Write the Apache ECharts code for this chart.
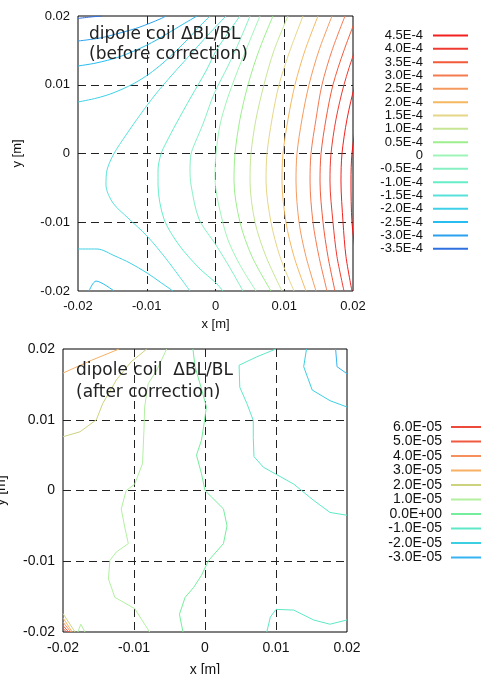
<!DOCTYPE html>
<html><head><meta charset="utf-8">
<script src="https://cdn.jsdelivr.net/npm/echarts/dist/echarts.min.js"></script>
<style>html,body{margin:0;padding:0;background:#fff}#c{width:481px;height:674px}</style>
</head><body><div id="c"></div>
<script>
// ---------- DATA: plot 1 (before correction) ----------
const axisTicks = [-0.02, -0.01, 0, 0.01, 0.02];
const rowY = [0.02, 0.015, 0.01, 0.005, 0, -0.004, -0.01, -0.015, -0.02];
const bx_p50 = [0.0258, 0.02349, 0.02175, 0.02058, 0.01985, 0.01971, 0.01985, 0.02044, 0.02116];
const bx_p45 = [0.02407, 0.02189, 0.02029, 0.01913, 0.0184, 0.01825, 0.01855, 0.01898, 0.01985];
const bx_p40 = [0.02233, 0.02029, 0.01869, 0.01753, 0.0168, 0.01665, 0.01709, 0.01767, 0.01869];
const bx_p35 = [0.02058, 0.01869, 0.01709, 0.01607, 0.01535, 0.0152, 0.01564, 0.01636, 0.01738];
const bx_p30 = [0.01884, 0.01695, 0.01549, 0.01462, 0.01389, 0.01375, 0.01418, 0.01505, 0.01622];
const bx_p25 = [0.01695, 0.01505, 0.0136, 0.01258, 0.01185, 0.01171, 0.01215, 0.01316, 0.01462];
const bx_p20 = [0.01491, 0.01302, 0.01156, 0.01055, 0.00982, 0.00967, 0.01025, 0.01142, 0.01316];
const bx_p15 = [0.01273, 0.01084, 0.00924, 0.00822, 0.00749, 0.00735, 0.00807, 0.00938, 0.01142];
const bx_p10 = [0.01055, 0.00851, 0.00705, 0.00589, 0.00516, 0.00502, 0.00575, 0.00735, 0.00967];
const bx_p05 = [0.00836, 0.00633, 0.00473, 0.00356, 0.00284, 0.00269, 0.00356, 0.00531, 0.00807];
const b_0 = [[0.00647,0.02],[0.00473,0.01578],[0.00298,0.01142],[0.00167,0.00778],[0.00065,0.00415],[0.00007,-0.00007],[-0.00007,-0.00313],[0.00007,-0.00531],[0.0008,-0.00895],[0.00182,-0.01258],[0.00356,-0.01622],[0.00589,-0.02]];
const b_m05 = [[0.00502,0.02],[0.00356,0.01651],[0.00182,0.01273],[-0.00022,0.00865],[-0.00182,0.00429],[-0.00298,0.00153],[-0.00356,-0.00007],[-0.00371,-0.0024],[-0.00356,-0.00458],[-0.0024,-0.00953],[0.00007,-0.01331],[0.00211,-0.01665],[0.004,-0.02]];
const b_m10 = [[0.00356,0.02],[0.00182,0.01753],[0.00007,0.01491],[-0.00138,0.012],[-0.00356,0.00822],[-0.00575,0.00429],[-0.0072,0.00153],[-0.00793,-0.00007],[-0.00836,-0.0024],[-0.00836,-0.00458],[-0.00749,-0.00953],[-0.00531,-0.01331],[-0.0024,-0.01665],[0.00007,-0.01884],[0.00109,-0.02]];
const b_m15 = [[0.00153,0.02],[-0.00109,0.01724],[-0.00371,0.01433],[-0.00633,0.01142],[-0.0088,0.00851],[-0.01098,0.0056],[-0.01302,0.00269],[-0.0148,-0.00007],[-0.01578,-0.0024],[-0.01593,-0.00458],[-0.01491,-0.0072],[-0.01273,-0.00938],[-0.00996,-0.012],[-0.00705,-0.01549],[-0.00371,-0.02]];
const b_m20 = [[-0.02,0.00749],[-0.01724,0.00807],[-0.01491,0.0088],[-0.012,0.01011],[-0.00967,0.01156],[-0.00764,0.01316],[-0.00575,0.01491],[-0.004,0.01665],[-0.0024,0.0184],[-0.0008,0.02]];
const b_m20b = [[-0.02,-0.01389],[-0.01724,-0.01389],[-0.01462,-0.01491],[-0.01244,-0.01593],[-0.00996,-0.01738],[-0.00807,-0.01869],[-0.00618,-0.02]];
const b_m25 = [[-0.02,0.01273],[-0.01738,0.01316],[-0.01404,0.01404],[-0.01055,0.01549],[-0.00807,0.0168],[-0.00516,0.01855],[-0.00269,0.02]];
const b_m25b = [[-0.0184,-0.02],[-0.01738,-0.01855],[-0.01476,-0.02]];
const b_m30 = [[-0.02,0.01636],[-0.0168,0.0168],[-0.01389,0.01753],[-0.01098,0.0184],[-0.00807,0.01956],[-0.0072,0.02]];
const b_m35 = [[-0.02,0.01964],[-0.01825,0.01985],[-0.01651,0.02]];
const beforeLevels = ['4.5E-4','4.0E-4','3.5E-4','3.0E-4','2.5E-4','2.0E-4','1.5E-4','1.0E-4','0.5E-4','0','-0.5E-4','-1.0E-4','-1.5E-4','-2.0E-4','-2.5E-4','-3.0E-4','-3.5E-4'];

// ---------- DATA: plot 2 (after correction) ----------
const a_p60 = [[-0.02,-0.0195],[-0.0195,-0.02]];
const a_p50 = [[-0.02,-0.0191],[-0.0192,-0.02]];
const a_p40 = [[-0.02,-0.0186],[-0.0189,-0.02]];
const a_p30 = [[-0.02,0.0166],[-0.016,0.0184],[-0.0121,0.02]];
const a_p30b = [[-0.02,-0.018],[-0.0187,-0.02]];
const a_p20 = [[-0.02,0.0076],[-0.0176,0.0083],[-0.0153,0.01],[-0.0144,0.0123],[-0.0125,0.0156],[-0.0104,0.0182],[-0.0082,0.02]];
const a_p20b = [[-0.02,-0.0174],[-0.0183,-0.02]];
const a_p10 = [[-0.0054,0.02],[-0.0068,0.017],[-0.008,0.0151],[-0.0085,0.0118],[-0.0086,0.0085],[-0.0088,0.0038],[-0.0099,0.0009],[-0.0111,0.0],[-0.0118,-0.0026],[-0.0113,-0.0052],[-0.0108,-0.0075],[-0.0125,-0.0087],[-0.0134,-0.0099],[-0.0136,-0.0125],[-0.0127,-0.0151],[-0.0099,-0.0167],[-0.0078,-0.02]];
const a_p10b = [[-0.0179,-0.02],[-0.0175,-0.0189],[-0.0169,-0.02]];
const a_0 = [[-0.0017,0.02],[-0.0014,0.0175],[-0.0005,0.0144],[0.0002,0.0118],[-0.0002,0.009],[-0.0005,0.0071],[-0.0012,0.005],[-0.0005,0.0024],[0.0,0.0],[0.0009,-0.0009],[0.0026,-0.0026],[0.0031,-0.005],[0.0026,-0.0075],[0.0005,-0.0099],[-0.0005,-0.012],[-0.0016,-0.0137],[-0.0028,-0.0151],[-0.0036,-0.0175],[-0.0031,-0.02]];
const a_m10 = [[0.01,0.02],[0.0073,0.0189],[0.0048,0.0177],[0.0049,0.0146],[0.0059,0.0123],[0.0068,0.0099],[0.0068,0.0075],[0.0069,0.0048],[0.0082,0.0033],[0.01,0.0023],[0.0125,0.0009],[0.0153,-0.0014],[0.0176,-0.0031],[0.02,-0.0035]];
const a_m10b = [[0.0087,-0.02],[0.0092,-0.0179],[0.01,-0.0168],[0.0125,-0.0169],[0.0153,-0.0183],[0.0176,-0.0189],[0.02,-0.0183]];
const a_m20 = [[0.0143,0.02],[0.0139,0.0175],[0.0151,0.0142],[0.0176,0.0127],[0.02,0.0118]];
const a_m30 = [[0.0184,0.02],[0.0186,0.0175],[0.02,0.0165]];
const afterLevels = ['6.0E-05','5.0E-05','4.0E-05','3.0E-05','2.0E-05','1.0E-05','0.0E+00','-1.0E-05','-2.0E-05','-3.0E-05'];

// ---------- assembly ----------
const zipRows = xs => xs.map((x, i) => [x, rowY[i]]);
const beforeLines = {
  '5.0E-4': [zipRows(bx_p50)], '4.5E-4': [zipRows(bx_p45)], '4.0E-4': [zipRows(bx_p40)],
  '3.5E-4': [zipRows(bx_p35)], '3.0E-4': [zipRows(bx_p30)], '2.5E-4': [zipRows(bx_p25)],
  '2.0E-4': [zipRows(bx_p20)], '1.5E-4': [zipRows(bx_p15)], '1.0E-4': [zipRows(bx_p10)],
  '0.5E-4': [zipRows(bx_p05)], '0': [b_0], '-0.5E-4': [b_m05], '-1.0E-4': [b_m10],
  '-1.5E-4': [b_m15], '-2.0E-4': [b_m20, b_m20b], '-2.5E-4': [b_m25, b_m25b],
  '-3.0E-4': [b_m30], '-3.5E-4': [b_m35]
};
const beforeColors = {
  '5.0E-4':'#f21010','4.5E-4':'#f22020','4.0E-4':'#ee3a30','3.5E-4':'#f25a3a','3.0E-4':'#f47a50',
  '2.5E-4':'#f59a5e','2.0E-4':'#f5b860','1.5E-4':'#e6d688','1.0E-4':'#c6e696','0.5E-4':'#9cef8c',
  '0':'#9ff5b8','-0.5E-4':'#86f0c4','-1.0E-4':'#66eec8','-1.5E-4':'#58e2dc','-2.0E-4':'#3ed0e6',
  '-2.5E-4':'#26bdf0','-3.0E-4':'#2aa0ee','-3.5E-4':'#2f6fe0'
};
const afterLines = {
  '6.0E-05':[a_p60], '5.0E-05':[a_p50], '4.0E-05':[a_p40], '3.0E-05':[a_p30, a_p30b],
  '2.0E-05':[a_p20, a_p20b], '1.0E-05':[a_p10, a_p10b], '0.0E+00':[a_0],
  '-1.0E-05':[a_m10, a_m10b], '-2.0E-05':[a_m20], '-3.0E-05':[a_m30]
};
const afterColors = {
  '6.0E-05':'#ee4a3c','5.0E-05':'#f05a40','4.0E-05':'#f5905e','3.0E-05':'#f8b064','2.0E-05':'#cdd27e',
  '1.0E-05':'#b2f0a0','0.0E+00':'#74ee9c','-1.0E-05':'#5ee8c8','-2.0E-05':'#3ccfe2','-3.0E-05':'#38b4f2'
};

const series = [];
function addLines(lines, colors, idx, smooth) {
  Object.keys(lines).forEach(name => {
    lines[name].forEach(pts => {
      series.push({
        type: 'line', name: name, data: pts, xAxisIndex: idx, yAxisIndex: idx,
        showSymbol: false, symbol: 'none', smooth: smooth, clip: true, silent: true,
        color: colors[name], itemStyle: { color: colors[name] },
        lineStyle: { color: colors[name], width: 1 }, z: 3
      });
    });
  });
}
addLines(beforeLines, beforeColors, 0, 0.3);
addLines(afterLines, afterColors, 1, false);

const dash = { show: true, showMinLine: false, showMaxLine: false, lineStyle: { color: '#222', type: [8, 5], width: 1 } };
function mkX(idx, fs, gap) {
  return { type: 'value', gridIndex: idx, min: axisTicks[0], max: axisTicks[axisTicks.length - 1], interval: 0.01,
    name: 'x [m]', nameLocation: 'middle', nameGap: gap, nameMoveOverlap: false,
    nameTextStyle: { fontFamily: 'Liberation Sans', fontSize: fs, color: '#111' },
    axisLine: { show: false }, axisTick: { show: false }, splitLine: dash,
    axisLabel: { fontFamily: 'Liberation Sans', fontSize: fs, color: '#111', margin: 9 } };
}
function mkY(idx, fs, gap) {
  return { type: 'value', gridIndex: idx, min: axisTicks[0], max: axisTicks[axisTicks.length - 1], interval: 0.01,
    name: 'y [m]', nameLocation: 'middle', nameGap: gap, nameRotate: 90, nameMoveOverlap: false,
    nameTextStyle: { fontFamily: 'Liberation Sans', fontSize: fs, color: '#111' },
    axisLine: { show: false }, axisTick: { show: false }, splitLine: dash,
    axisLabel: { fontFamily: 'Liberation Sans', fontSize: fs, color: '#111', margin: 8 } };
}

const chart = echarts.init(document.getElementById('c'), null, { renderer: 'canvas' });
chart.setOption({
  animation: false,
  backgroundColor: '#fff',
  title: [
    { text: 'dipole coil ΔBL/BL\n(before correction)', left: 89, top: 25, padding: 0, z: 10,
      textStyle: { fontFamily: 'DejaVu Sans', fontSize: 17, fontWeight: 'normal', lineHeight: 20, color: '#222' } },
    { text: 'dipole coil  ΔBL/BL\n(after correction)', left: 76, top: 360, padding: 0, z: 10,
      textStyle: { fontFamily: 'DejaVu Sans', fontSize: 17, fontWeight: 'normal', lineHeight: 21.5, color: '#222' } }
  ],
  grid: [
    { left: 78, top: 16, width: 275, height: 275, show: true, borderColor: '#000', borderWidth: 1,
      backgroundColor: 'transparent', containLabel: false, outerBoundsMode: 'none' },
    { left: 63, top: 349, width: 284, height: 283, show: true, borderColor: '#000', borderWidth: 1,
      backgroundColor: 'transparent', containLabel: false, outerBoundsMode: 'none' }
  ],
  xAxis: [mkX(0, 13, 27), mkX(1, 14, 31)],
  yAxis: [mkY(0, 13, 54), mkY(1, 14, 55)],
  legend: [
    { data: beforeLevels, orient: 'vertical', right: 8, top: 24, align: 'right', icon: 'rect',
      itemWidth: 35, itemHeight: 2, itemGap: 0.33, selectedMode: false,
      formatter: '{t|{name}}',
      textStyle: { fontFamily: 'Liberation Sans', fontSize: 13, color: '#111', lineHeight: 13,
        rich: { t: { fontFamily: 'Liberation Sans', fontSize: 13, color: '#111', lineHeight: 13, padding: [0, 5, 0, 0] } } } },
    { data: afterLevels, orient: 'vertical', right: -10, top: 415, align: 'right', icon: 'rect',
      itemWidth: 35, itemHeight: 2, itemGap: 0.5, selectedMode: false,
      formatter: '{t|{name}}',
      textStyle: { fontFamily: 'Liberation Sans', fontSize: 14, color: '#111', lineHeight: 14,
        rich: { t: { fontFamily: 'Liberation Sans', fontSize: 14, color: '#111', lineHeight: 14, padding: [0, 4, 0, 0] } } } }
  ],
  series: series
});
</script></body></html>
